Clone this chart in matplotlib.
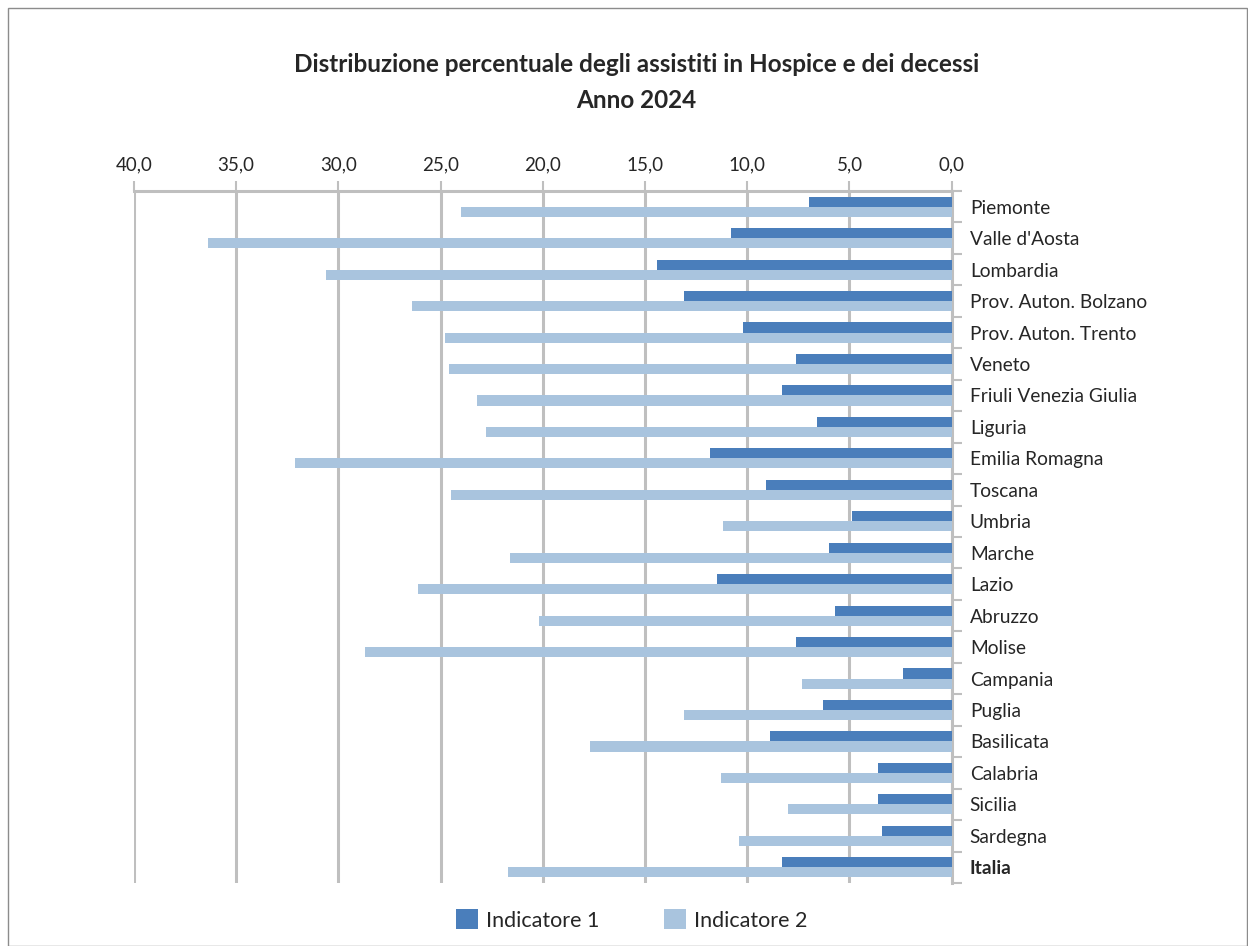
import matplotlib
matplotlib.use("Agg")
import matplotlib.pyplot as plt
from matplotlib.patches import Rectangle, Patch
import numpy as np

regions = ["Piemonte", "Valle d'Aosta", "Lombardia", "Prov. Auton. Bolzano",
           "Prov. Auton. Trento", "Veneto", "Friuli Venezia Giulia", "Liguria",
           "Emilia Romagna", "Toscana", "Umbria", "Marche", "Lazio", "Abruzzo",
           "Molise", "Campania", "Puglia", "Basilicata", "Calabria", "Sicilia",
           "Sardegna", "Italia"]
indicatore1 = [7.0, 10.8, 14.4, 13.1, 10.2, 7.6, 8.3, 6.6, 11.8, 9.1, 4.9,
               6.0, 11.5, 5.7, 7.6, 2.4, 6.3, 8.9, 3.6, 3.6, 3.4, 8.3]
indicatore2 = [24.0, 36.4, 30.6, 26.4, 24.8, 24.6, 23.2, 22.8, 32.1, 24.5, 11.2,
               21.6, 26.1, 20.2, 28.7, 7.3, 13.1, 17.7, 11.3, 8.0, 10.4, 21.7]
xticks = [40, 35, 30, 25, 20, 15, 10, 5, 0]
xtick_labels = ["40,0", "35,0", "30,0", "25,0", "20,0", "15,0", "10,0", "5,0", "0,0"]

FONT = ["Lato", "DejaVu Sans"]
plt.rcParams['font.family'] = FONT
DARK = "#4A7EBB"
LIGHT = "#A9C4DE"
GRID = "#BFBFBF"
TXT = "#262626"

fig = plt.figure(figsize=(12.48, 9.46), dpi=100)
fig.patches.append(Rectangle((8/1248, 0), 1 - 8/1248 - 0.0005, 1 - 8/946,
                             transform=fig.transFigure, fill=False,
                             edgecolor="#8C8C8C", linewidth=1.0))

ax = fig.add_axes([134/1248, 1 - 883/946, (951.7 - 134)/1248, (883 - 191)/946])
y = np.arange(len(regions))
h = 0.32
ax.barh(y - h/2, indicatore1, height=h, color=DARK, label="Indicatore 1", zorder=3)
ax.barh(y + h/2, indicatore2, height=h, color=LIGHT, label="Indicatore 2", zorder=3)

ax.set_xlim(40, 0)
ax.set_ylim(len(regions) - 0.5, -0.5)
ax.xaxis.tick_top()
ax.set_xticks(xticks)
ax.set_xticklabels(xtick_labels, fontsize=13.5, color=TXT)
ax.tick_params(axis='x', which='major', length=7, width=1.5, color=GRID, pad=6)
ax.grid(axis='x', color=GRID, linewidth=2.2, zorder=0)

ax.yaxis.tick_right()
ax.set_yticks(y)
ax.set_yticklabels(regions, fontsize=13.8, color=TXT)
for lbl in ax.get_yticklabels():
    if lbl.get_text() == "Italia":
        lbl.set_fontweight("bold")
ax.tick_params(axis='y', which='major', length=0, pad=13)
ax.set_yticks(np.arange(-0.5, len(regions)), minor=True)
ax.tick_params(axis='y', which='minor', length=7, width=1.5, color=GRID, right=True, left=False)

for s in ["left", "bottom"]:
    ax.spines[s].set_visible(False)
for s in ["top", "right"]:
    ax.spines[s].set_color(GRID)
    ax.spines[s].set_linewidth(2.2)

fig.text(0.51, 1 - 65/946, "Distribuzione percentuale degli assistiti in Hospice e dei decessi",
         ha="center", va="center", fontsize=17.5, fontweight="bold", color=TXT)
fig.text(0.51, 1 - 100/946, "Anno 2024", ha="center", va="center",
         fontsize=17.5, fontweight="bold", color=TXT)

handles = [Patch(facecolor=DARK), Patch(facecolor=LIGHT)]
fig.legend(handles, ["Indicatore 1", "Indicatore 2"], loc="center",
           bbox_to_anchor=(632/1248, 1 - 920/946), ncol=2, frameon=False,
           fontsize=15.5, handlelength=1.0, handleheight=1.0, columnspacing=3.0,
           handletextpad=0.4, labelcolor=TXT)

fig.savefig("out.png", dpi=100, facecolor="white")
